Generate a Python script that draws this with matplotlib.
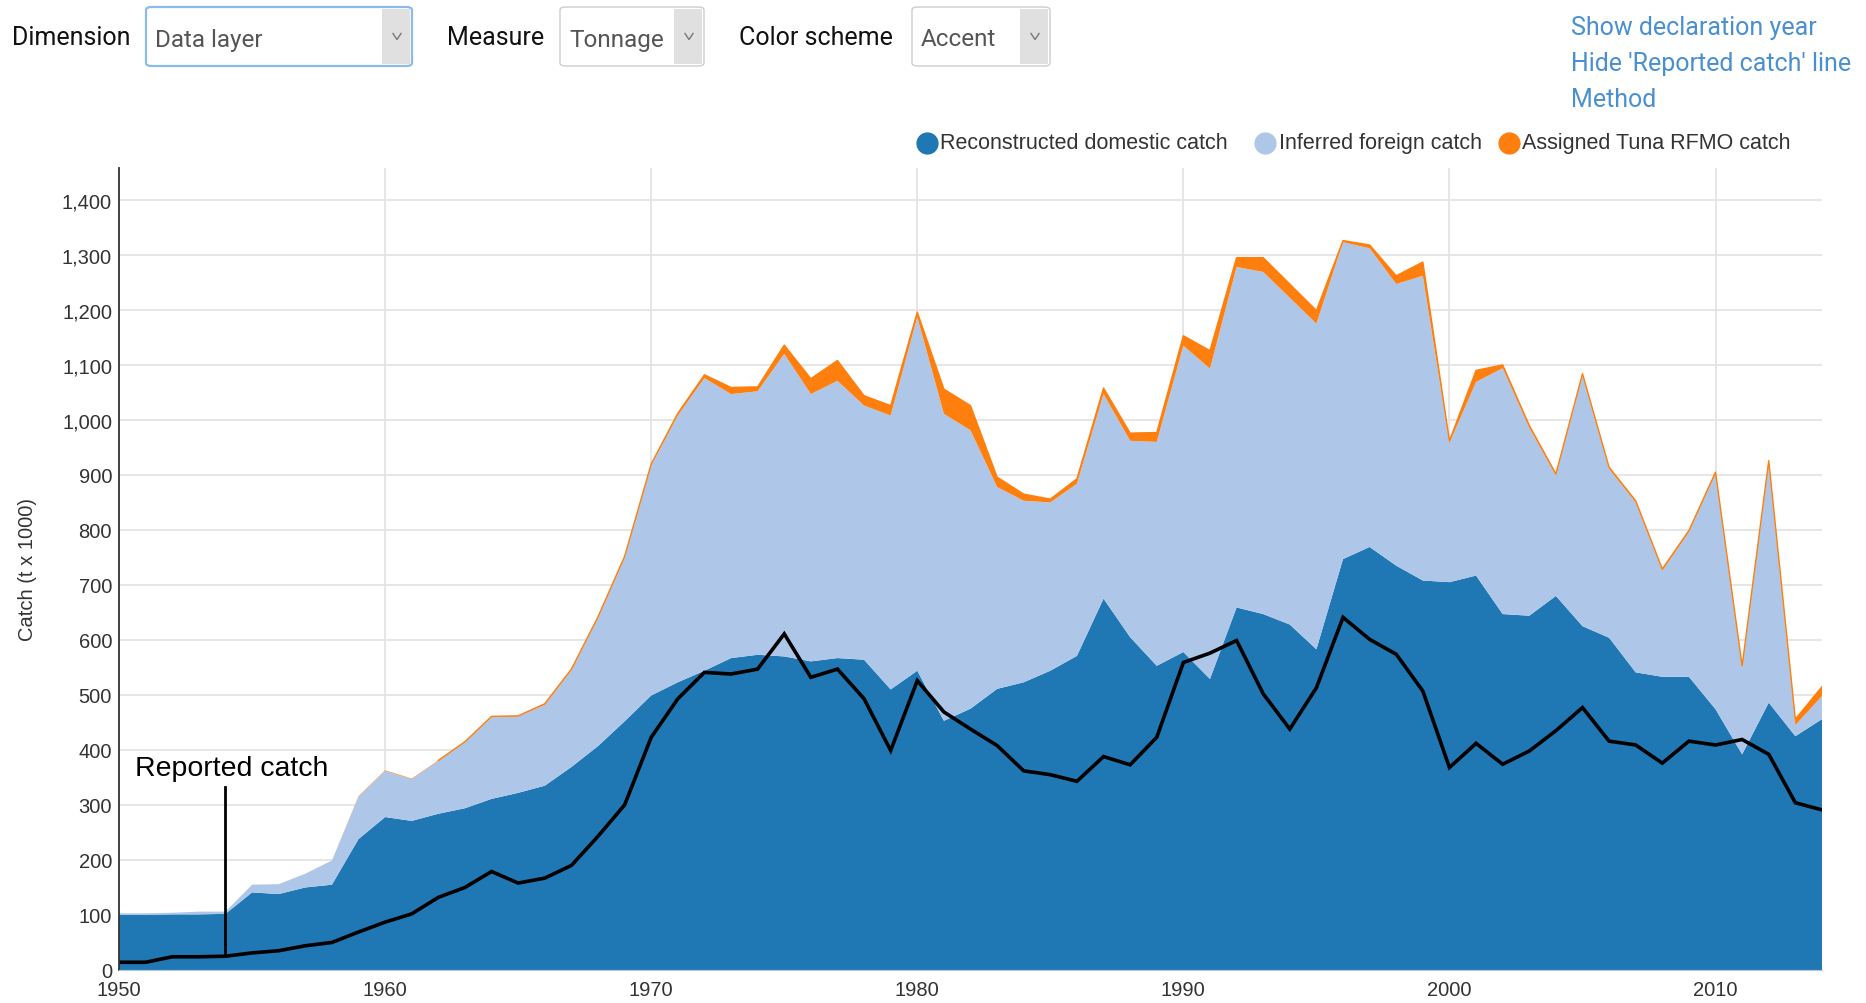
import matplotlib
matplotlib.use("Agg")
import matplotlib.pyplot as plt
import numpy as np
from matplotlib.lines import Line2D
from matplotlib.patches import FancyBboxPatch, Rectangle
from matplotlib.ticker import FuncFormatter

years = np.arange(1950, 2015)

# reconstructed domestic catch (t x 1000)
domestic = [100, 100, 101, 101, 102, 141, 138, 150, 155, 238,
            278, 271, 284, 294, 311, 322, 335, 369, 407, 452,
            499, 523, 544, 567, 573, 570, 561, 567, 564, 510,
            544, 453, 475, 511, 523, 544, 571, 675, 605, 553,
            578, 529, 659, 647, 628, 583, 747, 769, 735, 708,
            705, 717, 647, 644, 680, 625, 604, 541, 533, 533,
            474, 392, 486, 425, 456]

# inferred foreign catch
foreign = [3, 3, 3, 5, 4, 14, 18, 25, 44, 77,
           84, 76, 96, 120, 149, 139, 147, 176, 233, 298,
           419, 485, 532, 480, 479, 550, 486, 504, 462, 498,
           643, 558, 506, 367, 330, 306, 313, 372, 357, 407,
           557, 564, 619, 622, 594, 592, 576, 543, 512, 554,
           253, 352, 447, 342, 219, 456, 307, 309, 193, 263,
           428, 159, 438, 20, 42]

# assigned tuna RFMO catch
tuna = [0, 0, 0, 0, 0, 0, 0, 0, 0, 1,
        1, 1, 1, 1, 1, 1, 2, 2, 2, 2,
        2, 4, 6, 12, 8, 16, 28, 37, 18, 18,
        9, 45, 45, 18, 12, 6, 9, 11, 14, 17,
        18, 33, 17, 26, 25, 24, 3, 6, 15, 25,
        4, 21, 6, 4, 3, 3, 3, 3, 3, 3,
        3, 2, 2, 11, 17]

reported = [14, 14, 24, 24, 25, 31, 35, 44, 50, 69,
            87, 102, 132, 150, 179, 158, 167, 190, 243, 300,
            423, 493, 541, 538, 547, 611, 532, 547, 493, 399,
            526, 469, 438, 408, 362, 355, 343, 388, 373, 423,
            559, 576, 599, 502, 438, 513, 641, 601, 574, 507,
            368, 412, 374, 398, 435, 477, 416, 409, 376, 416,
            409, 419, 392, 304, 291]

layer_names = ["Reconstructed domestic catch", "Inferred foreign catch",
               "Assigned Tuna RFMO catch"]
layer_colors = ["#1f77b4", "#aec7e8", "#ff7f0e"]

plt.rcParams['font.family'] = ['Liberation Sans', 'DejaVu Sans']
narrow = ['Liberation Sans Narrow', 'Liberation Sans', 'DejaVu Sans']
roboto = ['Roboto', 'DejaVu Sans']

fig = plt.figure(figsize=(18.66, 10.04), dpi=100)
ax = fig.add_axes([0.0638, 0.0329, 0.9126, 0.7988])

ax.stackplot(years, domestic, foreign, tuna, colors=layer_colors, lw=0)
top = np.array(domestic) + np.array(foreign) + np.array(tuna)
# orange outline only where the tuna layer exists
has_tuna = np.array(tuna) > 0
first = int(np.argmax(has_tuna)) + 3
ax.plot(years[first:], top[first:], color="#ff7f0e", lw=1)
ax.plot(years, reported, color="black", lw=2.6, solid_joinstyle="miter")

# label for the reported catch line
ax.plot([1954, 1954], [25, 333], color="black", lw=2)
ax.text(1950.6, 368, "Reported catch", fontsize=20.5, va="center", color="black")

ax.set_xlim(1950, 2014)
ax.set_ylim(0, 1458)
ax.set_xticks(range(1950, 2011, 10))
ax.set_yticks(range(0, 1401, 100))
ax.yaxis.set_major_formatter(FuncFormatter(lambda v, p: f"{int(v):,}"))
ax.tick_params(length=0, labelsize=14.5, colors="#333333")
ax.tick_params(axis="x", pad=7)
ax.tick_params(axis="y", pad=5)
for lab in ax.get_xticklabels() + ax.get_yticklabels():
    lab.set_family(narrow)
ax.grid(True, color="#e4e4e4", lw=1.3)
ax.set_axisbelow(True)
for s in ["top", "right"]:
    ax.spines[s].set_visible(False)
ax.spines["bottom"].set_color("#aec7e8")
ax.spines["left"].set_color("#333333")
ax.spines["left"].set_linewidth(1.3)
ax.set_ylabel("Catch (t x 1000)", fontsize=14.5, color="#333333", labelpad=18)

# legend row
leg_x = [0.4968, 0.678, 0.8087]
leg_y = 0.857
for x, name, col in zip(leg_x, layer_names, layer_colors):
    fig.add_artist(Line2D([x], [leg_y], marker="o", markersize=15,
                          color=col, transform=fig.transFigure))
    fig.text(x + 0.0072, leg_y, name, fontsize=15.5, color="#333333", va="center")

# control bar
W, H = 1866, 1004


def box(x0, x1, y0, y1, glow=False):
    edge = "#8bbbe8" if glow else "#cccccc"
    fig.add_artist(FancyBboxPatch((x0 / W, 1 - y1 / H), (x1 - x0) / W, (y1 - y0) / H,
                                  boxstyle="round,pad=0,rounding_size=0.003",
                                  fc="white", ec=edge, lw=1.6 if glow else 1,
                                  transform=fig.transFigure))
    ax_w = 30
    fig.add_artist(Rectangle(((x1 - ax_w) / W, 1 - y1 / H + 0.002), (ax_w - 2) / W,
                             (y1 - y0) / H - 0.004, fc="#e0e0e0", ec="none",
                             transform=fig.transFigure))
    cx, cy = (x1 - ax_w / 2) / W, 1 - (y0 + y1) / 2 / H
    fig.add_artist(Line2D([cx - 4 / W, cx, cx + 4 / W], [cy + 3 / H, cy - 3 / H, cy + 3 / H],
                          color="#777777", lw=1, transform=fig.transFigure))


controls = [("Dimension", 12, "Data layer", 146, 412, True),
            ("Measure", 447, "Tonnage", 560, 704, False),
            ("Color scheme", 739, "Accent", 912, 1050, False)]
for label, lx, value, bx0, bx1, glow in controls:
    fig.text(lx / W, 1 - 38 / H, label, fontsize=18, color="#111111", va="center",
             family=roboto)
    box(bx0, bx1, 8, 67, glow)
    fig.text((bx0 + 9) / W, 1 - 40 / H, value, fontsize=17.5, color="#555555", va="center",
             family=roboto)

links = ["Show declaration year", "Hide 'Reported catch' line", "Method"]
for i, t in enumerate(links):
    fig.text(1571 / W, 1 - (28 + 36 * i) / H, t, fontsize=18, color="#4a90d0",
             va="center", family=roboto)

fig.savefig("out.png", dpi=100)
